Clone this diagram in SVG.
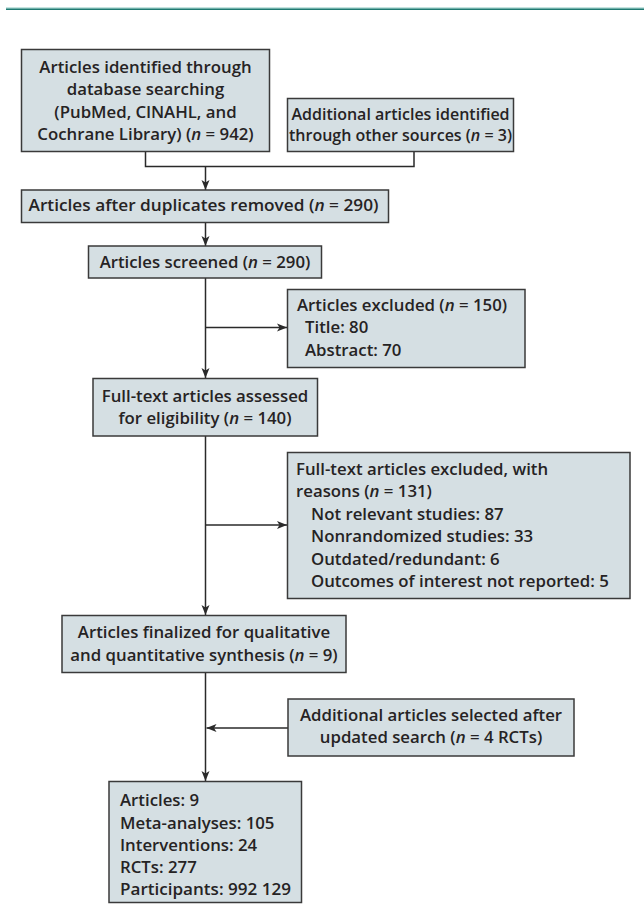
<svg xmlns="http://www.w3.org/2000/svg" width="644" height="904" viewBox="0 0 644 904">
<defs>
<style>
.box{fill:#d5dfe3;stroke:#3a3a3a;stroke-width:1.5}
.t{font-family:"Open Sans","Liberation Sans",sans-serif;font-weight:600;font-size:16.8px;fill:#262324}
.s{font-size:16px}
.c{text-anchor:middle}
.i{font-style:italic}
.ln{fill:none;stroke:#2a2a2a;stroke-width:1.5}
</style>
<marker id="ah" markerUnits="userSpaceOnUse" markerWidth="10" markerHeight="10" viewBox="0 0 10 10" refX="10" refY="5" orient="auto">
<path d="M0,1 L10,5 L0,9 L2.5,5 Z" fill="#2a2a2a"/>
</marker>
</defs>
<rect x="6" y="7.5" width="638" height="1" fill="#8ccac2"/>
<rect x="6" y="8.5" width="638" height="1.5" fill="#1e7a72"/>
<g id="connectors">
<path class="ln" d="M145.5,151 V166.5 H414 V152"/>
<path class="ln" d="M205.5,166.5 V190" marker-end="url(#ah)"/>
<path class="ln" d="M205.5,222.5 V246" marker-end="url(#ah)"/>
<path class="ln" d="M205.5,278 V378" marker-end="url(#ah)"/>
<path class="ln" d="M205.5,327.5 H287" marker-end="url(#ah)"/>
<path class="ln" d="M205.5,436 V615" marker-end="url(#ah)"/>
<path class="ln" d="M205.5,525 H287" marker-end="url(#ah)"/>
<path class="ln" d="M205.5,672 V781" marker-end="url(#ah)"/>
<path class="ln" d="M288,728 H206.5" marker-end="url(#ah)"/>
</g>
<g id="n1">
<rect class="box" x="21.5" y="49.5" width="248" height="102"/>
<text class="t c" x="145.5" y="72.5">Articles identified through</text>
<text class="t c" x="145.5" y="95">database searching</text>
<text class="t c" x="145.5" y="117.5">(PubMed, ClNAHL, and</text>
<text class="t c" x="145.5" y="140">Cochrane Library) (<tspan class="i">n</tspan> = 942)</text>
</g>
<g id="n2">
<rect class="box" x="287.5" y="98.5" width="226" height="53"/>
<text class="t s c" x="400.5" y="119.5">Additional articles identified</text>
<text class="t s c" x="400.5" y="141">through other sources (<tspan class="i">n</tspan> = 3)</text>
</g>
<g id="n3">
<rect class="box" x="21.5" y="190" width="367" height="32.5"/>
<text class="t c" x="203.5" y="211" textLength="350" lengthAdjust="spacingAndGlyphs">Articles after duplicates removed (<tspan class="i">n</tspan> = 290)</text>
</g>
<g id="n4">
<rect class="box" x="88.5" y="246" width="233" height="32"/>
<text class="t c" x="205" y="268">Articles screened (<tspan class="i">n</tspan> = 290)</text>
</g>
<g id="n5">
<rect class="box" x="287.5" y="289.5" width="237.5" height="78"/>
<text class="t" x="297" y="310.5">Articles excluded (<tspan class="i">n</tspan> = 150)</text>
<text class="t" x="305" y="333">Title: 80</text>
<text class="t" x="305" y="355.5">Abstract: 70</text>
</g>
<g id="n6">
<rect class="box" x="93" y="378.5" width="224.5" height="57.5"/>
<text class="t c" x="205" y="401.5">Full-text articles assessed</text>
<text class="t c" x="205" y="423.5">for eligibility (<tspan class="i">n</tspan> = 140)</text>
</g>
<g id="n7">
<rect class="box" x="287.5" y="452.5" width="342.5" height="146"/>
<text class="t" x="296" y="475">Full-text articles excluded, with</text>
<text class="t" x="296" y="497">reasons (<tspan class="i">n</tspan> = 131)</text>
<text class="t" x="311" y="519.5">Not relevant studies: 87</text>
<text class="t" x="311" y="542">Nonrandomized studies: 33</text>
<text class="t" x="311" y="564.5">Outdated/redundant: 6</text>
<text class="t" x="311" y="587">Outcomes of interest not reported: 5</text>
</g>
<g id="n8">
<rect class="box" x="62" y="615.5" width="284" height="57"/>
<text class="t c" x="204" y="638">Articles finalized for qualitative</text>
<text class="t c" x="204" y="660.5">and quantitative synthesis (<tspan class="i">n</tspan> = 9)</text>
</g>
<g id="n9">
<rect class="box" x="288" y="699" width="286" height="57"/>
<text class="t c" x="431" y="720.5">Additional articles selected after</text>
<text class="t c" x="431" y="743">updated search (<tspan class="i">n</tspan> = 4 RCTs)</text>
</g>
<g id="n10">
<rect class="box" x="109" y="781.5" width="192.5" height="121"/>
<text class="t" x="120" y="806">Articles: 9</text>
<text class="t" x="120" y="828.5">Meta-analyses: 105</text>
<text class="t" x="120" y="850.5">Interventions: 24</text>
<text class="t" x="120" y="873">RCTs: 277</text>
<text class="t" x="120" y="895" textLength="171" lengthAdjust="spacingAndGlyphs">Participants: 992 129</text>
</g>
</svg>
